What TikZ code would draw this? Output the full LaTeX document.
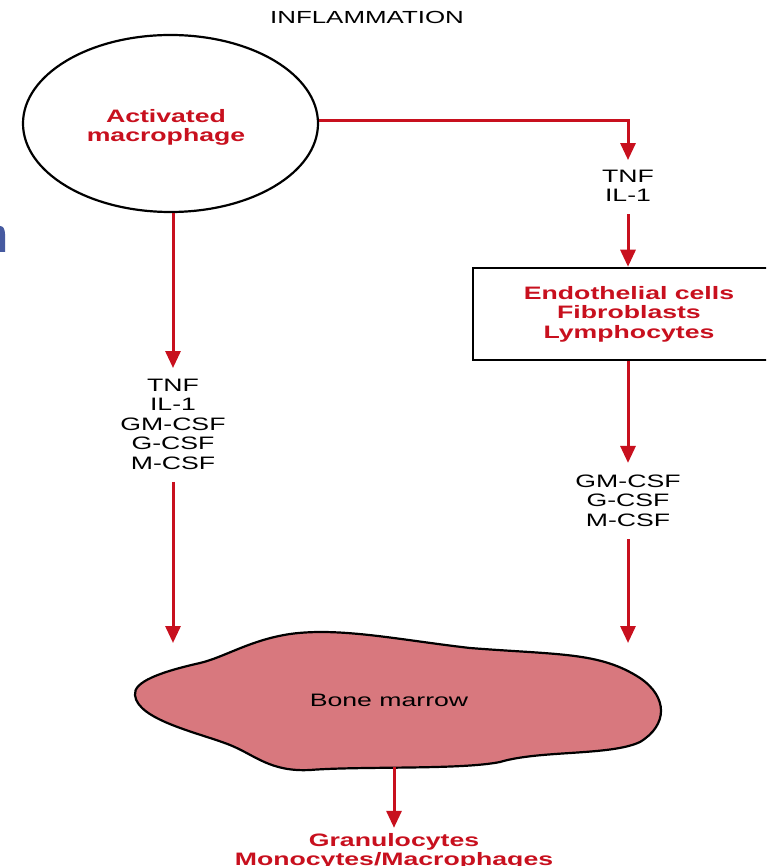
\documentclass[tikz,border=0pt]{standalone}
\usepackage{fontspec}
\setmainfont{Liberation Sans}[FakeStretch=1.48]
\usetikzlibrary{arrows.meta,shapes.geometric,calc}
\definecolor{myred}{RGB}{200,16,30}
\definecolor{marrow}{RGB}{216,120,126}
\definecolor{bluefrag}{RGB}{70,90,160}
\begin{document}
\begin{tikzpicture}[x=1pt,y=-1pt,
  redarrow/.style={draw=myred, line width=3pt, -{Triangle[length=17pt,width=15pt]}},
  lbl/.style={font=\fontsize{18}{19.5}\selectfont, align=center, inner sep=0pt},
  redlbl/.style={lbl, text=myred, font=\fontsize{18}{19.5}\selectfont\bfseries},
]
\useasboundingbox (0,0) rectangle (766,866);
\clip (0,0) rectangle (766,866);
\fill[white] (0,0) rectangle (766,866);

% stray blue fragment at the left edge
\fill[bluefrag] (0,252) -- (0,226) .. controls (3,226) and (5,229) .. (5,234) -- (5,252) -- cycle;

\node[lbl, font=\fontsize{17.5}{19}\selectfont] (title) at (367,17) {INFLAMMATION};

\node[draw, ellipse, line width=2.2pt, minimum width=295pt, minimum height=177pt, inner sep=0pt] (mac) at (170.5,123.5) {};
\node[redlbl] (mactext) at (166,127.6) {Activated\\macrophage};

\node[lbl] (tnfR) at (628,185.7) {TNF\\IL-1};

\node[draw, line width=2.5pt, minimum width=312pt, minimum height=92pt, inner sep=0pt,
      text=myred, align=center, font=\fontsize{18}{19.5}\selectfont\bfseries] (box) at (629,314)
      {Endothelial cells\\Fibroblasts\\Lymphocytes};

\node[lbl] (csfR) at (628,500.5) {GM-CSF\\G-CSF\\M-CSF};

\node[lbl] (tnfL) at (173,424) {TNF\\IL-1\\GM-CSF\\G-CSF\\M-CSF};

% bone marrow
\draw[line width=2.2pt, fill=marrow] (135,695)
  .. controls (133,682) and (160,672) .. (200,663)
  .. controls (225,657) and (250,640) .. (290,634)
  .. controls (340,627) and (400,640) .. (470,648)
  .. controls (560,655) and (600,652) .. (640,678)
  .. controls (668,697) and (668,725) .. (640,742)
  .. controls (610,756) and (540,750) .. (500,762)
  .. controls (460,770) and (360,766) .. (310,770)
  .. controls (270,772) and (255,755) .. (230,745)
  .. controls (200,733) and (137,720) .. (135,695) -- cycle;
\node[lbl] (bm) at (389,700) {Bone marrow};
\coordinate (bmL) at (173,643);
\coordinate (bmR) at (628,643);
\coordinate (bmB) at (394,767);

\node[redlbl] (gran) at (394,851.6) {Granulocytes\\Monocytes/Macrophages};

% connectors
\draw[redarrow, shorten >=9.5pt] (mac.1) -| (tnfR.north);
\draw[redarrow, shorten <=12.5pt] (tnfR.south) -- (box.north -| tnfR.south);
\draw[redarrow, shorten >=11.5pt] (box.south -| csfR.north) -- (csfR.north);
\draw[redarrow, shorten <=12.5pt] (csfR.south) -- (bmR);
\draw[redarrow, shorten >=10.5pt] (tnfL.north |- mac.south) -- (tnfL.north);
\draw[redarrow, shorten <=12.5pt] (tnfL.south) -- (bmL);
\draw[redarrow, shorten >=5.4pt] (bmB) -- (gran.north);
\end{tikzpicture}
\end{document}
